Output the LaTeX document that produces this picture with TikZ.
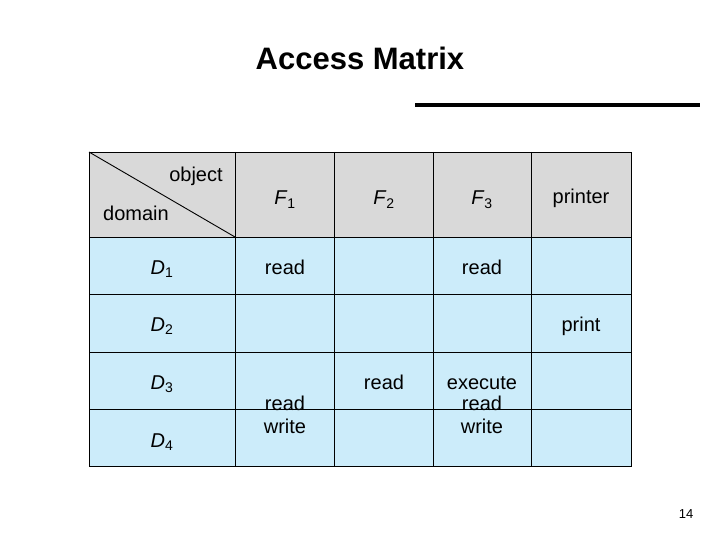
\documentclass[tikz,border=0pt]{standalone}
\usepackage{fontspec}
\setmainfont{Liberation Sans}
\usepackage{tikz}
\definecolor{headgray}{RGB}{217,217,217}
\definecolor{cellblue}{RGB}{204,236,250}
\tikzset{cell/.style={font=\fontsize{20}{23}\selectfont, align=center, inner sep=0pt, anchor=base}}
\newcommand{\subvar}[2]{\textit{#1}\textsubscript{#2}}
\begin{document}
\begin{tikzpicture}[x=1pt, y=-1pt]
            \useasboundingbox (0,0) rectangle (720,540);
            \node[font=\bfseries\fontsize{31}{33}\selectfont] at (360, 58) (title) {Access Matrix};
            \draw [line width=4pt] (415, 105) -- (700, 105);

            \fill [headgray] (89, 152) rectangle (631, 237);
            \fill [cellblue] (89, 237) rectangle (631, 466);
            \draw [line width=0.9pt] (89, 152) rectangle (631, 466);
            \foreach \x in {235, 334, 433, 531}
                \draw [line width=0.9pt] (\x, 152) -- (\x, 466);
            \foreach \y in {237, 294, 352, 409}
                \draw [line width=0.9pt] (89, \y) -- (631, \y);
            \draw [line width=0.9pt] (89, 152) -- (235, 237);

            \node[cell] at (196, 182)   (obj) {object};
            \node[cell] at (136, 221)   (dom) {domain};
            \node[cell] at (285, 205)   (f1) {\subvar{F}{1}};
            \node[cell] at (384, 205)   (f2) {\subvar{F}{2}};
            \node[cell] at (482, 205)   (f3) {\subvar{F}{3}};
            \node[cell] at (581, 204)   (pr) {printer};

            \node[cell] at (162, 274)   (d1) {\subvar{D}{1}};
            \node[cell] at (162, 331)   (d2) {\subvar{D}{2}};
            \node[cell] at (162, 389)   (d3) {\subvar{D}{3}};
            \node[cell] at (162, 447)   (d4) {\subvar{D}{4}};

            \node[cell] at (285, 274)   (d1f1) {read};
            \node[cell] at (482, 274)   (d1f3) {read};
            \node[cell] at (581, 331)   (d2pr) {print};
            \node[cell] at (384, 389)   (d3f2) {read};
            \node[cell] at (482, 389)   (d3f3) {execute};
            \node[cell] at (285, 433)   (d4f1) {read\\write};
            \node[cell] at (482, 433)   (d4f3) {read\\write};

            \node[font=\fontsize{13}{15}\selectfont] at (686, 514) (page) {14};
\end{tikzpicture}
\end{document}
